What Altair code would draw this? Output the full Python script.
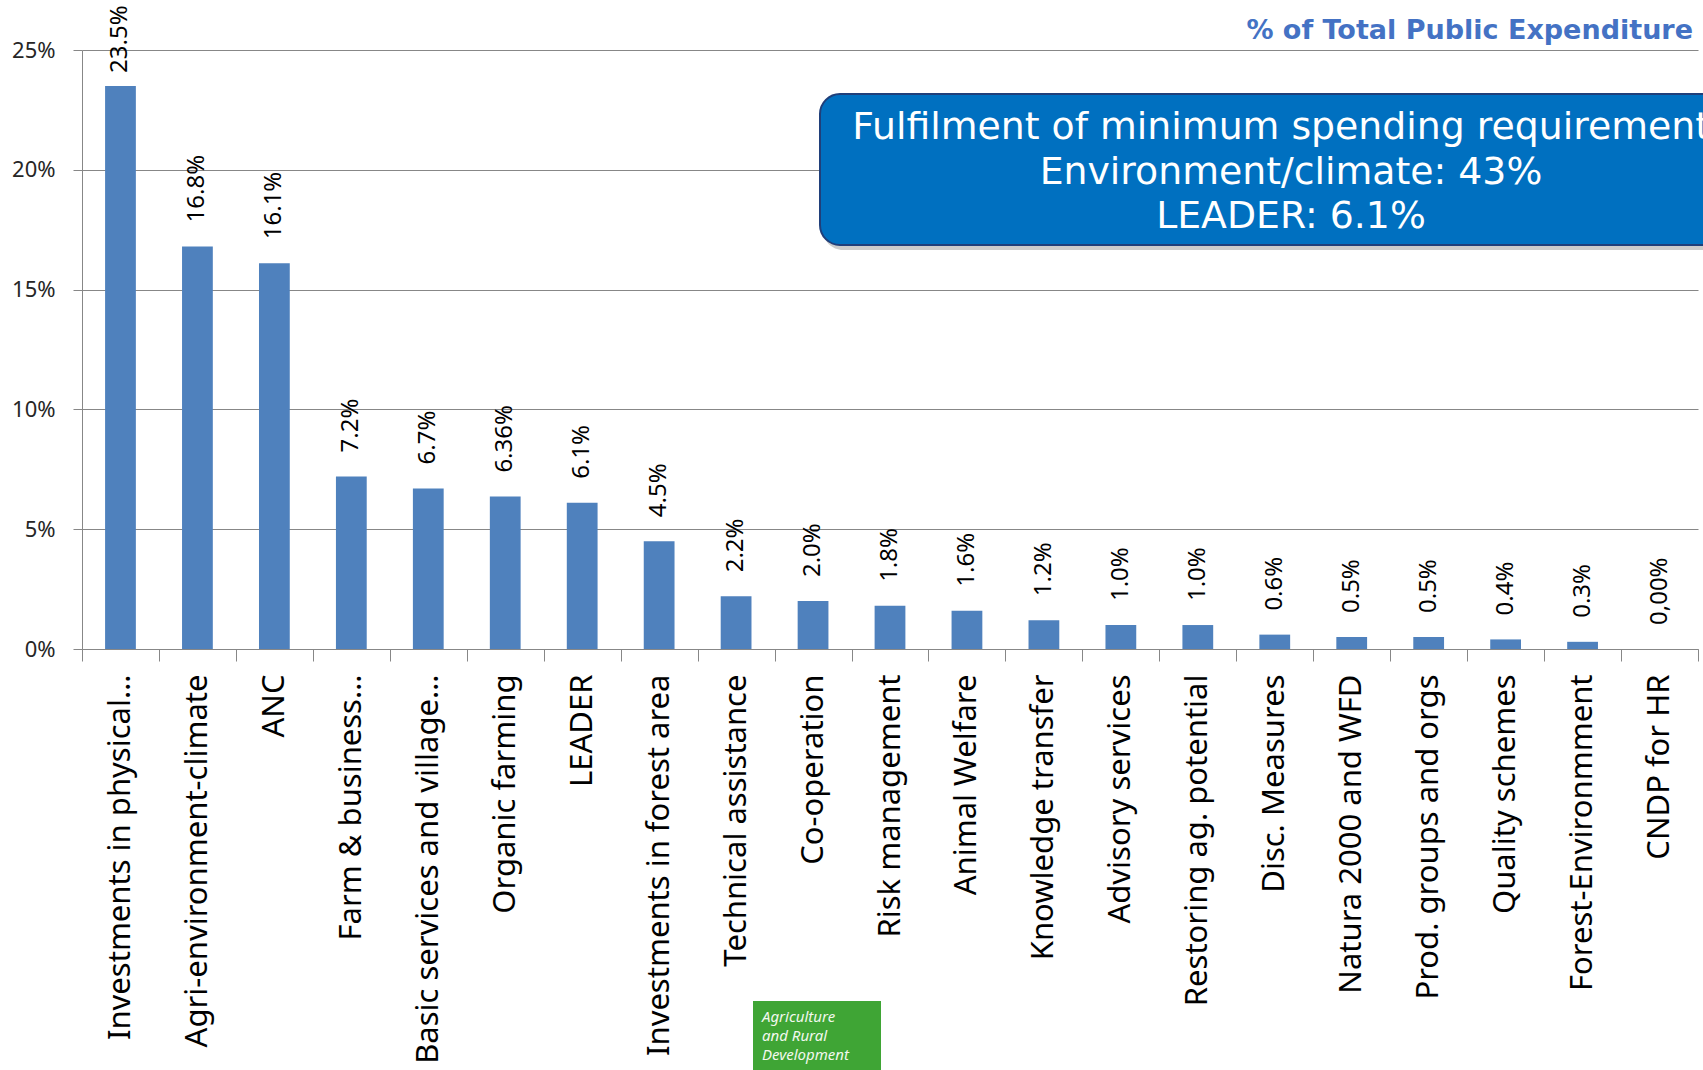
import altair as alt
import pandas as pd

categories = [
    "Investments in physical…", "Agri-environment-climate", "ANC",
    "Farm & business…", "Basic services and village…", "Organic farming",
    "LEADER", "Investments in forest area", "Technical assistance",
    "Co-operation", "Risk management", "Animal Welfare", "Knowledge transfer",
    "Advisory services", "Restoring ag. potential", "Disc. Measures",
    "Natura 2000 and WFD", "Prod. groups and orgs", "Quality schemes",
    "Forest-Environmment", "CNDP for HR",
]
values = [23.5, 16.8, 16.1, 7.2, 6.7, 6.36, 6.1, 4.5, 2.2, 2.0, 1.8, 1.6,
          1.2, 1.0, 1.0, 0.6, 0.5, 0.5, 0.4, 0.3, 0.0]
value_labels = ["23.5%", "16.8%", "16.1%", "7.2%", "6.7%", "6.36%", "6.1%",
                "4.5%", "2.2%", "2.0%", "1.8%", "1.6%", "1.2%", "1.0%",
                "1.0%", "0.6%", "0.5%", "0.5%", "0.4%", "0.3%", "0,00%"]
y_ticks = [0, 0.05, 0.10, 0.15, 0.20, 0.25]

title_text = "% of Total Public Expenditure"
box_text = "Fulfilment of minimum spending requirements\nEnvironment/climate: 43%\nLEADER: 6.1%"
logo_text = "Agriculture\nand Rural\nDevelopment"

W, H = 1616, 599
GRAY = "#878787"

df = pd.DataFrame({
    "cat": categories,
    "val": [v / 100 for v in values],
    "lab": value_labels,
    "idx": list(range(len(categories))),
})

x_enc = alt.X("cat:N", sort=categories, title=None,
              scale=alt.Scale(paddingInner=0, paddingOuter=0),
              axis=alt.Axis(labelAngle=-90, labelFont="Noto Sans", labelFontSize=31,
                            labelColor="#000000", labelLimit=0, labelPadding=13,
                            tickBand="extent", tickSize=12, tickColor=GRAY,
                            domainColor=GRAY, grid=False))
y_enc = alt.Y("val:Q", title=None,
              scale=alt.Scale(domain=[0, 0.25], nice=False),
              axis=alt.Axis(values=y_ticks, format=".0%", labelFont="Noto Sans",
                            labelFontSize=22, labelColor="#262626", labelPadding=18,
                            tickSize=9, tickColor=GRAY, domainColor=GRAY,
                            grid=True, gridColor=GRAY, gridWidth=1))

base = alt.Chart(df)
bars = base.mark_bar(color="#4F81BD", width={"band": 0.4}).encode(x=x_enc, y=y_enc)
label_style = dict(angle=270, align="left", baseline="middle",
                   font="Noto Sans", fontSize=24, color="#000000")
labels_top = base.transform_filter("datum.idx == 0").mark_text(dx=13, **label_style).encode(
    x=alt.X("cat:N", sort=categories), y="val:Q", text="lab:N")
labels_rest = base.transform_filter("datum.idx > 0").mark_text(dx=24, **label_style).encode(
    x=alt.X("cat:N", sort=categories), y="val:Q", text="lab:N")

one = pd.DataFrame({"t": [0]})
title = alt.Chart(one).mark_text(align="right", baseline="alphabetic",
                                 font="DejaVu Sans", fontWeight="bold", fontSize=27,
                                 color="#4472C4").encode(
    x=alt.value(1611), y=alt.value(-11), text=alt.value(title_text))

shadow = alt.Chart(one).mark_rect(cornerRadius=20, color="#7f7f7f", opacity=0.4).encode(
    x=alt.value(741), x2=alt.value(1740), y=alt.value(49), y2=alt.value(200))
box = alt.Chart(one).mark_rect(cornerRadius=20, fill="#0070C0", stroke="#203f7a",
                               strokeWidth=2).encode(
    x=alt.value(738), x2=alt.value(1740), y=alt.value(44), y2=alt.value(195))
box_t = alt.Chart(one).mark_text(align="center", baseline="alphabetic", lineBreak="\n",
                                 lineHeight=44.5, font="DejaVu Sans", fontSize=37.8,
                                 color="#FFFFFF").encode(
    x=alt.value(1209), y=alt.value(89), text=alt.value(box_text))

logo = alt.Chart(one).mark_rect(color="#3FA535").encode(
    x=alt.value(671), x2=alt.value(799), y=alt.value(951), y2=alt.value(1030))
logo_t = alt.Chart(one).mark_text(align="left", baseline="alphabetic", lineBreak="\n",
                                  lineHeight=19, font="Noto Sans", fontStyle="italic",
                                  fontSize=15, color="#F2F8EE").encode(
    x=alt.value(680), y=alt.value(972), text=alt.value(logo_text))

chart = alt.layer(bars, labels_top, labels_rest, title, shadow, box, box_t, logo, logo_t).properties(
    width=W, height=H,
    autosize=alt.AutoSizeParams(type="none"),
    padding={"left": 82, "top": 50, "right": 5, "bottom": 421},
    background="#FFFFFF",
).configure_view(stroke=None)

chart.save("out.html", embed_options={"renderer": "svg", "actions": False})
